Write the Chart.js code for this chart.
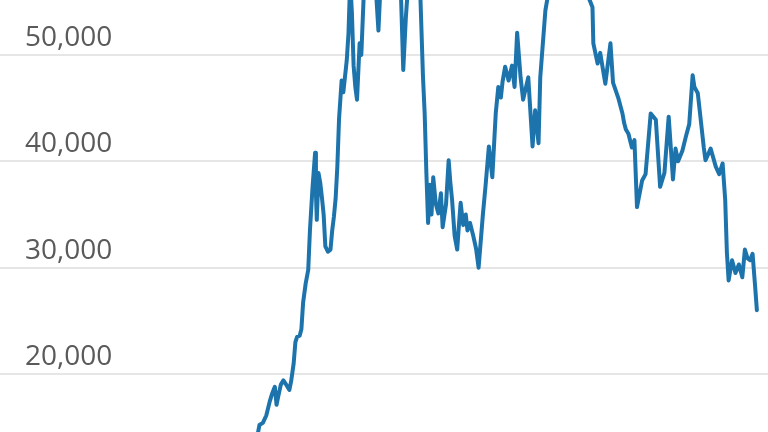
<!DOCTYPE html>
<html><head><meta charset="utf-8">
<script src="https://cdn.jsdelivr.net/npm/chart.js@4"></script>
<style>html,body{margin:0;padding:0;background:#fff}#wrap{width:768px;height:432px;position:relative;overflow:hidden}</style>
</head><body><div id="wrap"><canvas id="c" width="768" height="432"></canvas></div>
<script>
const dates = [
'2020-01-08','2020-02-12','2020-03-12','2020-04-15','2020-05-15','2020-06-15','2020-07-15','2020-08-15','2020-09-15','2020-10-15','2020-10-28','2020-11-03',
'2020-11-06','2020-11-10','2020-11-14','2020-11-18','2020-11-21','2020-11-24','2020-11-26','2020-11-28','2020-12-01','2020-12-04','2020-12-08','2020-12-11','2020-12-13','2020-12-16','2020-12-18','2020-12-20','2020-12-23','2020-12-25','2020-12-27','2020-12-30',
'2021-01-02','2021-01-04','2021-01-07','2021-01-10','2021-01-11','2021-01-12','2021-01-14','2021-01-16','2021-01-18','2021-01-20','2021-01-22','2021-01-25','2021-01-28','2021-01-30',
'2021-02-01','2021-02-03','2021-02-05','2021-02-07','2021-02-10','2021-02-12','2021-02-14','2021-02-16','2021-02-18','2021-02-20','2021-02-22','2021-02-24','2021-02-26','2021-02-28',
'2021-03-03','2021-03-05','2021-03-08','2021-03-10','2021-03-13','2021-03-17','2021-03-21','2021-03-25','2021-03-27','2021-04-01','2021-04-08','2021-04-13','2021-04-18','2021-04-20','2021-04-23','2021-04-26','2021-04-29',
'2021-05-03','2021-05-08','2021-05-11','2021-05-13','2021-05-16','2021-05-18','2021-05-20','2021-05-22','2021-05-24','2021-05-26','2021-05-28','2021-05-31',
'2021-06-03','2021-06-06','2021-06-08','2021-06-12','2021-06-15','2021-06-17','2021-06-19','2021-06-22','2021-06-25','2021-06-27','2021-06-29',
'2021-07-02','2021-07-05','2021-07-07','2021-07-10','2021-07-14','2021-07-17','2021-07-20','2021-07-23','2021-07-25','2021-07-28',
'2021-08-01','2021-08-05','2021-08-09','2021-08-12','2021-08-15','2021-08-17','2021-08-20','2021-08-24','2021-08-28','2021-08-31',
'2021-09-03','2021-09-07','2021-09-10','2021-09-16','2021-09-21','2021-09-24','2021-09-28','2021-09-30',
'2021-10-06','2021-10-12','2021-10-20','2021-10-27','2021-11-01','2021-11-09','2021-11-16','2021-11-19','2021-11-22','2021-11-25','2021-11-30',
'2021-12-01','2021-12-06','2021-12-09','2021-12-15','2021-12-21','2021-12-24','2021-12-30',
'2022-01-04','2022-01-06','2022-01-08','2022-01-11','2022-01-15','2022-01-18','2022-01-21','2022-01-27','2022-01-31',
'2022-02-06','2022-02-12','2022-02-17','2022-02-22','2022-02-27',
'2022-03-04','2022-03-07','2022-03-10','2022-03-15','2022-03-19','2022-03-23','2022-03-27','2022-03-29',
'2022-04-02','2022-04-06','2022-04-09','2022-04-11','2022-04-17','2022-04-23','2022-04-27',
'2022-05-01','2022-05-04','2022-05-06','2022-05-08','2022-05-12','2022-05-16','2022-05-20','2022-05-24','2022-05-27','2022-05-30',
'2022-06-02','2022-06-05','2022-06-08','2022-06-10'
];
const prices = [
8100,10300,4900,6700,9300,9400,9200,11800,10800,11500,13300,13900,
15200,15400,16100,17400,18200,18800,17100,17900,19000,19400,18900,18500,19300,21000,23000,23500,23600,24200,26700,28500,
29800,33500,37500,40800,37000,34500,38900,38000,36600,35000,32000,31500,31700,33500,
34800,36500,39500,44000,47600,46500,48000,49500,52000,57000,54000,49000,47000,45800,
51100,50000,56000,57000,61000,58000,57500,52300,55800,59000,58000,63500,57000,56500,48600,53500,57000,
57500,58500,56500,55500,48000,44500,38900,34200,37800,35000,38500,36000,
35100,37000,33800,36000,40100,38000,36400,33000,31700,34000,36100,
34000,35000,33500,34200,32900,31800,30000,33000,35000,37600,
41400,38500,44500,47000,46000,47500,48900,47600,49000,47000,
52100,47900,45800,47900,41400,44800,41700,47900,
54200,57000,65000,58500,61000,67500,60000,58000,56500,55500,54500,
51100,49200,50200,47300,51100,47400,46000,
44500,43600,43000,42600,41300,42000,35700,38200,38800,
44500,43900,37600,38900,44200,
38300,41200,40000,41000,42300,43500,48100,47000,
46400,43500,41300,40100,41200,39500,38800,
39800,36400,31400,28800,30700,29500,30300,29100,31700,30900,
30700,31300,28200,26000
];
const yTicks = [20000, 30000, 40000, 50000];
const xRange = ['2020-01-08', '2022-06-23'];
const yRange = [14545, 55173];

const points = dates.map((d, i) => ({ x: Date.parse(d), y: prices[i] }));

new Chart(document.getElementById('c'), {
  type: 'line',
  data: { datasets: [{
    data: points,
    borderColor: '#1d74ad',
    borderWidth: 4,
    pointRadius: 0,
    tension: 0,
    borderJoinStyle: 'round',
    borderCapStyle: 'round',
    fill: false
  }]},
  options: {
    responsive: false,
    animation: false,
    events: [],
    layout: { padding: 0 },
    plugins: { legend: { display: false }, tooltip: { enabled: false } },
    scales: {
      x: { type: 'linear', display: false, min: Date.parse(xRange[0]), max: Date.parse(xRange[1]) },
      y: {
        min: yRange[0], max: yRange[1],
        border: { display: false },
        grid: { color: '#e6e6e6', lineWidth: 2, drawTicks: false },
        afterBuildTicks: s => { s.ticks = yTicks.map(v => ({ value: v })); },
        afterFit: s => { s.paddingTop = 0; s.paddingBottom = 0; s.width = 0; },
        ticks: {
          mirror: true, padding: 25, labelOffset: -17,
          color: '#5a5a5a',
          font: { family: "'Open Sans', sans-serif", size: 28 },
          callback: v => v.toLocaleString('en-US')
        }
      }
    }
  }
});
</script>
</body></html>
